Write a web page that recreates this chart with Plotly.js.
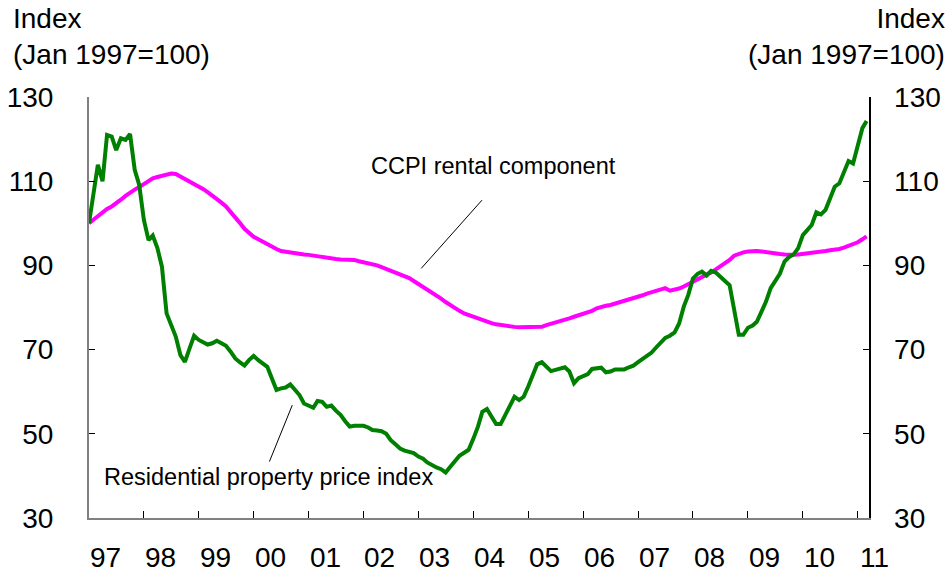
<!DOCTYPE html>
<html>
<head>
<meta charset="utf-8">
<script src="https://cdn.plot.ly/plotly-3.0.1.min.js"></script>
<style>
html,body{margin:0;padding:0;background:#fff;}
#chart{width:952px;height:575px;}
</style>
</head>
<body>
<div id="chart"></div>
<script>
// Monthly data, Jan 1997 to Mar 2011
var startYear = 1997;
var propertyPrice = [
100,107,113.9,110,121,120.6,117.4,120.2,119.8,121.2,112.7,109.1,
100.8,96.0,97.1,94.1,89.7,78.6,75.8,73.1,68.7,67.1,70.3,73.3,
72.3,71.8,71.2,71.5,72.1,71.5,70.9,69.5,67.9,67.0,66.2,67.5,
68.5,67.5,66.7,65.9,63.2,60.4,60.8,61.0,61.75,60.5,59.2,57.2,
56.7,56.2,57.8,57.6,56.4,56.7,55.5,54.5,53.0,51.7,51.9,51.9,
51.9,51.5,50.9,50.8,50.6,50.0,48.5,47.5,46.5,46.0,45.6,45.4,
44.6,44.1,43.2,42.5,42.0,41.6,40.8,42.2,43.5,44.8,45.5,46.2,
48.8,51.7,55.2,55.9,54.1,52.3,52.3,54.5,57.0,58.8,58.0,58.8,
61.3,64.0,66.5,67.0,66.0,64.9,65.2,65.6,65.8,64.8,62.0,63.2,
63.6,64.2,65.4,65.6,65.7,64.6,64.8,65.3,65.3,65.3,65.8,66.2,
67.0,67.8,68.6,69.3,70.5,71.7,72.8,73.3,74.1,76.2,80.2,83.0,
86.9,88.0,88.5,87.6,88.7,88.3,87.2,86.3,85.3,79.0,73.5,73.5,
75.2,75.7,76.6,79.0,81.4,84.6,86.5,88.0,90.9,92.0,92.6,94.1,
97.2,98.5,99.6,102.6,102.1,103.2,106.0,108.7,109.5,112.0,114.8,114.2,
118.5,122.6,124.3
];
var ccpiRental = [
100,100.9,101.8,102.7,103.4,104.0,104.7,105.6,106.5,107.3,108.0,108.6,
109.3,110.0,110.7,111.0,111.2,111.5,111.8,111.7,111.1,110.5,110.0,109.5,
108.8,108.1,107.4,106.6,105.9,104.9,104.0,102.8,101.6,100.1,98.7,97.7,
96.8,96.2,95.6,95.0,94.3,93.9,93.4,93.2,93.0,92.9,92.7,92.6,
92.5,92.3,92.1,91.9,91.7,91.6,91.5,91.4,91.4,91.3,91.3,91.0,
90.8,90.6,90.3,90.0,89.6,89.2,88.8,88.4,88.0,87.6,87.0,86.3,
85.6,85.0,84.4,83.7,82.9,82.1,81.3,80.5,79.8,79.2,78.6,78.2,
77.8,77.5,76.9,76.6,76.3,76.0,75.8,75.6,75.5,75.4,75.3,75.3,
75.2,75.2,75.2,75.4,75.8,76.1,76.3,76.6,77.0,77.4,77.8,78.1,
78.4,78.7,79.2,79.8,80.2,80.4,80.6,80.9,81.2,81.5,81.9,82.2,
82.6,82.9,83.3,83.6,84.0,84.3,84.6,84.0,84.2,84.5,85.0,85.6,
86.2,86.8,87.3,87.8,88.3,89.0,89.7,90.4,91.3,92.3,92.8,93.1,
93.3,93.4,93.4,93.3,93.1,93.0,92.8,92.7,92.6,92.5,92.5,92.6,
92.7,92.8,93.0,93.1,93.3,93.4,93.6,93.7,93.9,94.2,94.6,95.0,
95.5,96.2,96.9
];
var yearLabels = ['97','98','99','00','01','02','03','04','05','06','07','08','09','10','11'];
var yTicks = [30,50,70,90,110,130];

function pad(n){return (n<10?'0':'')+n;}
var months = [];
for (var i = 0; i < propertyPrice.length; i++) {
  months.push((startYear + Math.floor(i/12)) + '-' + pad(i%12+1) + '-01');
}
var yearStarts = [];
for (var k = 0; k < yearLabels.length; k++) yearStarts.push((startYear + k) + '-01-01');

var FONT = 'Liberation Sans, Arial, sans-serif';
var X0 = '1997-01-01', X1 = '2011-03-17';
var t0 = Date.parse(X0), t1 = Date.parse(X1);
function paperX(dateStr){ return (Date.parse(dateStr) - t0) / (t1 - t0); }

var traces = [
  {x: months, y: ccpiRental, type: 'scatter', mode: 'lines', name: 'CCPI rental component',
   line: {color: '#FF00FF', width: 4}, hoverinfo: 'skip'},
  {x: months, y: propertyPrice, type: 'scatter', mode: 'lines', name: 'Residential property price index',
   line: {color: '#008000', width: 4}, hoverinfo: 'skip', yaxis: 'y2'}
];

var annotations = [];
for (var k = 0; k < yearLabels.length; k++) {
  annotations.push({x: paperX((startYear + k) + '-04-20'), xref: 'paper', y: -0.095, yref: 'paper', text: yearLabels[k],
    showarrow: false, xanchor: 'center', yanchor: 'middle', font: {size: 28, color: '#000', family: FONT}});
}
annotations.push({x: -0.1, xref: 'paper', y: 1.227, yref: 'paper', text: 'Index<br>(Jan 1997=100)',
  showarrow: false, xanchor: 'left', yanchor: 'top', align: 'left', font: {size: 28, color: '#000', family: FONT}});
annotations.push({x: 1.1, xref: 'paper', y: 1.227, yref: 'paper', text: 'Index<br>(Jan 1997=100)',
  showarrow: false, xanchor: 'right', yanchor: 'top', align: 'right', font: {size: 28, color: '#000', family: FONT}});
annotations.push({x: '2004-05-16', xref: 'x', y: 113.5, yref: 'y', text: 'CCPI rental component',
  showarrow: false, xanchor: 'center', yanchor: 'middle', font: {size: 23.5, color: '#000', family: FONT}});
annotations.push({x: '2000-04-07', xref: 'x', y: 39.7, yref: 'y', text: 'Residential property price index',
  showarrow: false, xanchor: 'center', yanchor: 'middle', font: {size: 23.5, color: '#000', family: FONT}});

var layout = {
  width: 952, height: 575,
  margin: {l: 89, r: 83, t: 97, b: 57},
  paper_bgcolor: '#fff', plot_bgcolor: '#fff',
  showlegend: false,
  font: {family: FONT, size: 28, color: '#000'},
  xaxis: {type: 'date', range: [X0, X1], tickvals: yearStarts, showticklabels: false,
    ticks: 'inside', ticklen: 7, tickcolor: '#000', tickwidth: 1, showgrid: false, zeroline: false,
    showline: true, linecolor: '#808080', linewidth: 2},
  yaxis: {range: [30, 130], tickvals: yTicks, ticks: 'inside', ticklen: 6, tickcolor: '#000',
    showgrid: false, zeroline: false, showline: true, linecolor: '#808080', linewidth: 2,
    ticklabelstandoff: 28, tickfont: {size: 28, family: FONT, color: '#000'}},
  yaxis2: {range: [30, 130], tickvals: yTicks, overlaying: 'y', side: 'right', anchor: 'x',
    ticks: 'inside', ticklen: 6, tickcolor: '#000', showgrid: false, zeroline: false,
    showline: true, linecolor: '#000', linewidth: 1.5,
    ticklabelstandoff: 18, tickfont: {size: 28, family: FONT, color: '#000'}},
  shapes: [
    {type: 'line', xref: 'x', yref: 'y', x0: '2003-01-20', y0: 89.3, x1: '2004-02-28', y1: 105.5,
     line: {color: '#000', width: 1}},
    {type: 'line', xref: 'x', yref: 'y', x0: '2000-04-15', y0: 43.4, x1: '2000-09-14', y1: 56.8,
     line: {color: '#000', width: 1}}
  ],
  annotations: annotations
};

Plotly.newPlot('chart', traces, layout, {staticPlot: true, displayModeBar: false});
</script>
</body>
</html>
